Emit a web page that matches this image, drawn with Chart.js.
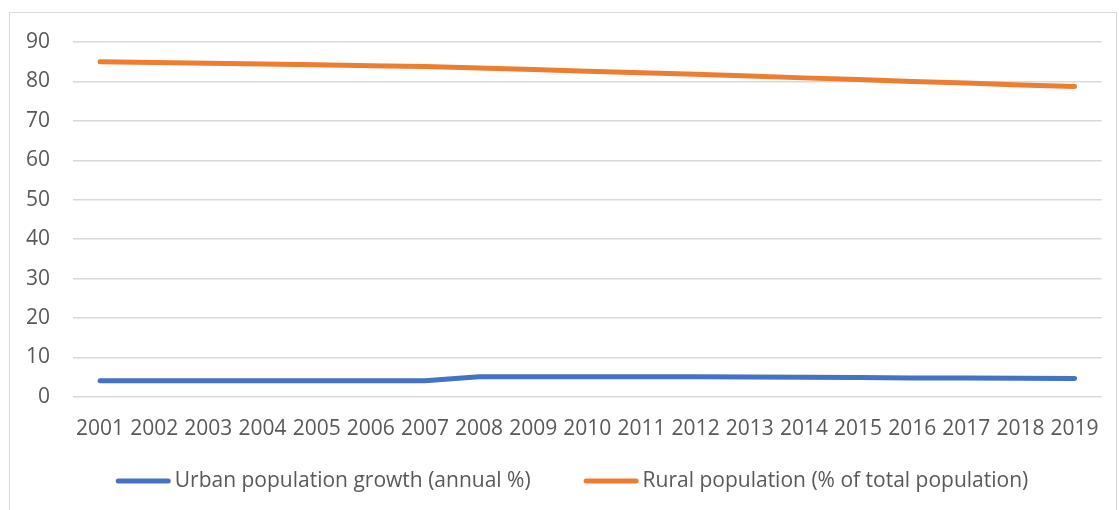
<!DOCTYPE html>
<html>
<head>
<meta charset="utf-8">
<script src="https://cdn.jsdelivr.net/npm/chart.js@4/dist/chart.umd.min.js"></script>
<style>
  html, body { margin: 0; padding: 0; background: #ffffff; }
  body { width: 1119px; height: 510px; position: relative; overflow: hidden; }
  #frame {
    position: absolute; left: 9px; top: 12px; width: 1108px; height: 520px;
    border: 1px solid #d9d9d9; box-sizing: border-box;
  }
  #wrap { position: absolute; left: 0; top: 0; width: 1119px; height: 510px; }
</style>
</head>
<body>
<div id="frame"></div>
<div id="wrap"><canvas id="chart" width="1119" height="510"></canvas></div>
<script>
// Years on the category axis
const years = ['2001','2002','2003','2004','2005','2006','2007','2008','2009','2010',
               '2011','2012','2013','2014','2015','2016','2017','2018','2019'];

// Urban population growth (annual %)
const urbanGrowth = [4.1, 4.1, 4.1, 4.1, 4.05, 4.05, 4.1, 5.1, 5.1, 5.1,
                     5.1, 5.1, 5.0, 4.95, 4.9, 4.8, 4.75, 4.7, 4.65];

// Rural population (% of total population)
const ruralShare = [85.0, 84.8, 84.6, 84.4, 84.2, 84.0, 83.8, 83.4, 83.0, 82.6,
                    82.2, 81.8, 81.4, 80.9, 80.5, 80.0, 79.6, 79.1, 78.7];

const seriesNames = ['Urban population growth (annual %)', 'Rural population (% of total population)'];

const FONT = "'Open Sans', 'Liberation Sans', sans-serif";
const TEXT = '#595959';
const FONT_SIZE = 21;

// Legend drawn below the axis: a short rounded line followed by the series name
const lineLegend = {
  id: 'lineLegend',
  afterDraw(chart) {
    const ctx = chart.ctx;
    const swatch = 55, gap = 4, between = 53, y = 481;
    ctx.save();
    ctx.font = FONT_SIZE + 'px ' + FONT;
    ctx.textBaseline = 'middle';
    const items = chart.data.datasets.map(ds => ({
      text: ds.label, color: ds.borderColor, w: ctx.measureText(ds.label).width
    }));
    const total = items.reduce((s, it) => s + swatch + gap + it.w, 0) + between * (items.length - 1);
    let x = 572 - total / 2;
    items.forEach(it => {
      ctx.strokeStyle = it.color;
      ctx.lineWidth = 5;
      ctx.lineCap = 'round';
      ctx.beginPath();
      ctx.moveTo(x + 2.5, y);
      ctx.lineTo(x + swatch - 2.5, y);
      ctx.stroke();
      ctx.fillStyle = TEXT;
      ctx.textAlign = 'left';
      ctx.fillText(it.text, x + swatch + gap, y);
      x += swatch + gap + it.w + between;
    });
    ctx.restore();
  }
};

new Chart(document.getElementById('chart'), {
  type: 'line',
  data: {
    labels: years,
    datasets: [
      {
        label: seriesNames[0],
        data: urbanGrowth,
        borderColor: '#4472C4',
        backgroundColor: '#4472C4',
        borderWidth: 5,
        borderCapStyle: 'round',
        borderJoinStyle: 'round',
        pointRadius: 0,
        tension: 0
      },
      {
        label: seriesNames[1],
        data: ruralShare,
        borderColor: '#ED7D31',
        backgroundColor: '#ED7D31',
        borderWidth: 5,
        borderCapStyle: 'round',
        borderJoinStyle: 'round',
        pointRadius: 0,
        tension: 0
      }
    ]
  },
  options: {
    responsive: false,
    animation: false,
    layout: { padding: { left: 3, right: 14, top: 42, bottom: 48 } },
    plugins: {
      legend: { display: false },
      tooltip: { enabled: false }
    },
    scales: {
      x: {
        offset: true,
        grid: { display: false, drawTicks: false },
        border: { display: false },
        ticks: {
          color: TEXT,
          font: { family: FONT, size: FONT_SIZE },
          padding: 20,
          maxRotation: 0,
          autoSkip: false
        }
      },
      y: {
        min: 0,
        max: 90,
        grid: { color: '#d9d9d9', lineWidth: 1.5, drawTicks: false },
        border: { display: false },
        ticks: {
          stepSize: 10,
          color: TEXT,
          font: { family: FONT, size: FONT_SIZE },
          padding: 23
        }
      }
    }
  },
  plugins: [lineLegend]
});
</script>
</body>
</html>
